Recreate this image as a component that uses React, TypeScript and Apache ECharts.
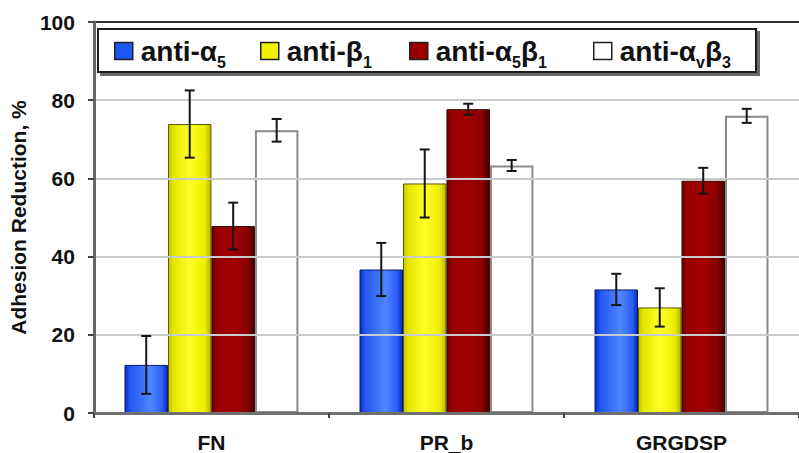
import React, { useEffect, useRef } from "react";
import * as echarts from "echarts";

// Substrates along the x axis
const categories = ["FN", "PR_b", "GRGDSP"];

// Antibody treatments (series) and their legend labels (rich text with subscripts)
const seriesNames = ["anti-α5", "anti-β1", "anti-α5β1", "anti-αvβ3"];
const legendLabels = [
  "{f|anti-α}{s|5}",
  "{f|anti-β}{s|1}",
  "{f|anti-α}{s|5}{m|β}{s|1}",
  "{f|anti-α}{s|v}{m|β}{s|3}",
];

// Mean adhesion reduction, % (per substrate)
const antiA5 = [12.3, 36.7, 31.6];
const antiB1 = [73.9, 58.7, 27.0];
const antiA5B1 = [47.8, 77.7, 59.4];
const antiAvB3 = [72.3, 63.3, 76.0];

// Error bar half-widths, %
const errA5 = [7.4, 6.8, 4.0];
const errB1 = [8.6, 8.7, 4.9];
const errA5B1 = [6.0, 1.4, 3.3];
const errAvB3 = [2.9, 1.4, 1.8];

// Y axis ticks
const yTicks = [0, 20, 40, 60, 80, 100];

const FONT = "'Liberation Sans', Arial, Helvetica, sans-serif";
const CATEGORY_GAP = 0.26;

const grad = (stops: [number, string][]) =>
  new echarts.graphic.LinearGradient(
    0,
    0,
    1,
    0,
    stops.map(([offset, color]) => ({ offset, color }))
  );

const barStyles = [
  {
    color: grad([
      [0, "#0a2cc8"],
      [0.12, "#2356f0"],
      [0.6, "#4f86ff"],
      [0.88, "#2a5ef5"],
      [1, "#0a26c0"],
    ]),
    borderColor: "#0a1a70",
    borderWidth: 1,
  },
  {
    color: grad([
      [0, "#c4c400"],
      [0.12, "#e6e600"],
      [0.5, "#ffff28"],
      [0.85, "#eeee00"],
      [1, "#b4b400"],
    ]),
    borderColor: "#5a5a00",
    borderWidth: 1,
  },
  {
    color: grad([
      [0, "#6a0000"],
      [0.12, "#960000"],
      [0.5, "#a20000"],
      [0.82, "#8a0000"],
      [1, "#460000"],
    ]),
    borderColor: "#3a0000",
    borderWidth: 1,
  },
  {
    color: "#ffffff",
    borderColor: "#8a8a8a",
    borderWidth: 2,
  },
];

const legendSolid = ["#1f55f2", "#f0f000", "#9a0000", "#ffffff"];
const legendLeft = [114, 260, 409, 593];

const means = [antiA5, antiB1, antiA5B1, antiAvB3];
const errs = [errA5, errB1, errA5B1, errAvB3];

const mainText = {
  fontFamily: FONT,
  fontWeight: "bold",
  fontSize: 28,
  lineHeight: 36,
  color: "#111",
};

export default function App() {
  const ref = useRef<HTMLDivElement>(null);

  useEffect(() => {
    if (!ref.current) return;
    const chart = echarts.init(ref.current, undefined, { renderer: "svg" });

    const barSeries = seriesNames.map((name, i) => ({
      name,
      type: "bar",
      data: means[i],
      barGap: "0%",
      barCategoryGap: `${CATEGORY_GAP * 100}%`,
      itemStyle: barStyles[i],
      z: 2,
    }));

    const errorSeries = seriesNames.map((name, i) => ({
      name: name + " error",
      type: "custom",
      z: 5,
      data: means[i].map((m, k) => [k, m, errs[i][k]]),
      renderItem: (params: any, api: any) => {
        const c = api.value(0);
        const m = api.value(1);
        const e = api.value(2);
        const band = api.size([1, 0])[0];
        const barW = (band * (1 - CATEGORY_GAP)) / 4;
        const cx = api.coord([c, 0])[0] + (i - 1.5) * barW;
        const yHi = api.coord([c, m + e])[1];
        const yLo = api.coord([c, m - e])[1];
        const cap = 5;
        const style = { stroke: "#161616", lineWidth: 2 };
        return {
          type: "group",
          children: [
            { type: "line", shape: { x1: cx, y1: yHi, x2: cx, y2: yLo }, style },
            { type: "line", shape: { x1: cx - cap, y1: yHi, x2: cx + cap, y2: yHi }, style },
            { type: "line", shape: { x1: cx - cap, y1: yLo, x2: cx + cap, y2: yLo }, style },
          ],
        };
      },
    }));

    const legends = seriesNames.map((name, i) => ({
      left: legendLeft[i],
      top: 32,
      padding: 0,
      itemWidth: 18,
      itemHeight: 17,
      icon: "rect",
      selectedMode: false,
      data: [
        {
          name,
          itemStyle: {
            color: legendSolid[i],
            borderColor: "#202020",
            borderWidth: 1.5,
          },
        },
      ],
      formatter: () => legendLabels[i],
      textStyle: {
        rich: {
          f: { ...mainText, padding: [0, 0, 0, 3] },
          m: { ...mainText },
          s: {
            fontFamily: FONT,
            fontWeight: "bold",
            fontSize: 16,
            lineHeight: 14,
            padding: [22, 0, 0, 0],
            color: "#111",
          },
        },
      },
    }));

    chart.setOption({
      animation: false,
      backgroundColor: "#ffffff",
      grid: { left: 86, top: 22, width: 720, height: 392, containLabel: false },
      legend: legends,
      graphic: [
        {
          type: "rect",
          z: -1,
          zlevel: 0,
          shape: { x: 98, y: 29, width: 658, height: 43 },
          style: {
            fill: "#ffffff",
            stroke: "#1e1e1e",
            lineWidth: 2,
            shadowColor: "rgba(90,90,90,0.9)",
            shadowOffsetX: 3,
            shadowOffsetY: 3,
            shadowBlur: 0,
          },
        },
      ],
      xAxis: {
        type: "category",
        data: categories,
        boundaryGap: true,
        axisLine: { lineStyle: { color: "#707070", width: 3 } },
        axisTick: { show: true, length: 5, lineStyle: { color: "#444", width: 2 } },
        axisLabel: {
          margin: 19,
          fontFamily: FONT,
          fontWeight: "bold",
          fontSize: 21,
          color: "#111",
        },
        z: 3,
      },
      yAxis: {
        type: "value",
        min: yTicks[0],
        max: yTicks[yTicks.length - 1],
        interval: 20,
        name: "Adhesion Reduction, %",
        nameLocation: "middle",
        nameGap: 50,
        nameTextStyle: {
          fontFamily: FONT,
          fontWeight: "bold",
          fontSize: 21,
          color: "#111",
        },
        axisLine: { show: true, lineStyle: { color: "#666", width: 3 } },
        axisTick: { show: true, length: 6, lineStyle: { color: "#444", width: 2 } },
        axisLabel: {
          margin: 19,
          fontFamily: FONT,
          fontWeight: "bold",
          fontSize: 21,
          color: "#111",
        },
        splitLine: {
          show: true,
          lineStyle: {
            color: ["#c6cccc", "#c6cccc", "#c6cccc", "#c6cccc", "#c6cccc", "#303030"],
            width: 2,
          },
        },
        z: 3,
      },
      series: [...barSeries, ...errorSeries],
    });

    return () => chart.dispose();
  }, []);

  return (
    <div
      ref={ref}
      style={{ position: "fixed", left: 0, top: 0, width: 799, height: 453 }}
    />
  );
}
